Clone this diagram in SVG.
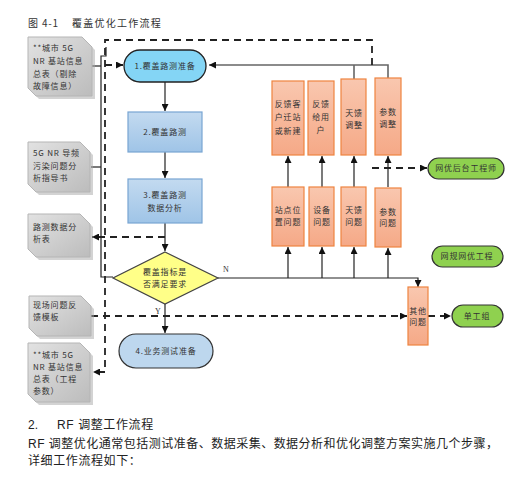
<svg xmlns="http://www.w3.org/2000/svg" width="530" height="495" viewBox="0 0 530 495">
<defs>
<linearGradient id="gGray" x1="0" y1="0" x2="1" y2="1"><stop offset="0" stop-color="#e2e2e2"/><stop offset="1" stop-color="#bcbcbc"/></linearGradient>
<linearGradient id="gOrange" x1="0" y1="0" x2="0" y2="1"><stop offset="0" stop-color="#f9c7af"/><stop offset="1" stop-color="#f5a987"/></linearGradient>
<linearGradient id="gBlue" x1="0" y1="0" x2="0" y2="1"><stop offset="0" stop-color="#c3daf0"/><stop offset="1" stop-color="#9fc4e7"/></linearGradient>
<marker id="arr" viewBox="0 0 10 10" refX="10" refY="5" markerWidth="7" markerHeight="7" markerUnits="userSpaceOnUse" orient="auto"><path d="M0,0 L10,5 L0,10 z" fill="#111"/></marker>
</defs>
<style>
text{font-family:"Noto Sans CJK SC","Liberation Sans",sans-serif;}
.t{font-size:8px;fill:#333;letter-spacing:0.8px;}
.tc{font-size:8px;fill:#333;letter-spacing:0.8px;text-anchor:middle;}
.ttl{font-size:10px;fill:#333;}
.p{font-family:"Liberation Sans","Noto Sans CJK SC",sans-serif;font-size:12px;fill:#222;}
.doc{fill:url(#gGray);stroke:#b5b5b5;stroke-width:1;}
.shadow{fill:#a8a8a8;opacity:0.5;}
.or{fill:url(#gOrange);stroke:#ee8440;stroke-width:1.2;}
.bl{fill:url(#gBlue);stroke:#78a5d3;stroke-width:1.2;}
.gr{fill:#8fd14f;stroke:#333;stroke-width:1.2;}
.ln{fill:none;stroke:#222;stroke-width:1.2;}
.fb{fill:none;stroke:#666;stroke-width:1.6;}
.ds{fill:none;stroke:#222;stroke-width:1.8;stroke-dasharray:7 5;}
</style>

<text class="ttl" x="28" y="27">图</text>
<text class="ttl" x="42" y="27" style="letter-spacing:0.8px;">4-1</text>
<text class="ttl" x="72" y="27" style="letter-spacing:1.25px;">覆盖优化工作流程</text>

<g id="connectors">
  <path class="ln" d="M92,66 L101,66"/>
  <path class="ln" d="M91,167 L101,167"/>
  <path class="ln" d="M106,47 L106,56 L101,56 L101,277 L113,277"/>
  <path class="ln" d="M165,82 L165,111" marker-end="url(#arr)"/>
  <path class="ln" d="M165,152 L165,178" marker-end="url(#arr)"/>
  <path class="ln" d="M165,223 L165,251" marker-end="url(#arr)"/>
  <path class="ln" d="M165,304 L165,333" marker-end="url(#arr)"/>
  <path class="ln" d="M218,278 L418,278 L418,287" marker-end="url(#arr)"/>
  <path class="ln" d="M288,278 L288,247" marker-end="url(#arr)"/>
  <path class="ln" d="M322,278 L322,247" marker-end="url(#arr)"/>
  <path class="ln" d="M354,278 L354,247" marker-end="url(#arr)"/>
  <path class="ln" d="M388,278 L388,248" marker-end="url(#arr)"/>
  <path class="ln" d="M288,187 L288,156" marker-end="url(#arr)"/>
  <path class="ln" d="M322,187 L322,156" marker-end="url(#arr)"/>
  <path class="ln" d="M354,187 L354,156" marker-end="url(#arr)"/>
  <path class="ln" d="M388,187 L388,156" marker-end="url(#arr)"/>
  <path class="fb" d="M354,79 L354,65 M388,78 L388,65 L209,65" marker-end="url(#arr)"/>
  <path class="ds" d="M372,65 L372,40 L105,40 L105,372 L93,372" marker-end="url(#arr)"/>
  <path class="ds" d="M105,65 L123,65" marker-end="url(#arr)"/>
  <path class="ds" d="M165,237 L92,237" marker-end="url(#arr)"/>
  <path class="ds" d="M91,316 L407,316" marker-end="url(#arr)"/>
  <path class="ds" d="M428,316 L451,316" marker-end="url(#arr)"/>
  <path class="ds" d="M372,168 L427,168" marker-end="url(#arr)"/>
  <text x="223" y="272" style="font-family:'Liberation Serif',serif;font-size:8px;fill:#333;">N</text>
  <text x="155" y="314" style="font-family:'Liberation Serif',serif;font-size:8px;fill:#333;">Y</text>
</g>

<g id="doc1">
  <path class="shadow" d="M31,40 L85,40 L95,50 L95,99 L39,99 L31,91 z"/>
  <path class="doc" d="M28,37 L82,37 L92,47 L92,96 L36,96 L28,88 z"/>
  <text class="t" x="33" y="51">**城市 5G</text>
  <text class="t" x="33" y="64">NR 基站信息</text>
  <text class="t" x="33" y="77">总表（剔除</text>
  <text class="t" x="33" y="89">故障信息）</text>
</g>
<g id="doc2">
  <path class="shadow" d="M31,145 L83,145 L93,155 L93,195 L39,195 L31,187 z"/>
  <path class="doc" d="M28,142 L80,142 L90,152 L90,192 L36,192 L28,184 z"/>
  <text class="t" x="33" y="156">5G NR 导频</text>
  <text class="t" x="33" y="169">污染问题分</text>
  <text class="t" x="33" y="181">析指导书</text>
</g>
<g id="doc3">
  <path class="shadow" d="M31,217 L83,217 L93,227 L93,260 L39,260 L31,252 z"/>
  <path class="doc" d="M28,214 L80,214 L90,224 L90,257 L36,257 L28,249 z"/>
  <text class="t" x="33" y="230">路测数据分</text>
  <text class="t" x="33" y="242">析表</text>
</g>
<g id="doc4">
  <path class="shadow" d="M32,299 L84,299 L94,309 L94,339 L40,339 L32,331 z"/>
  <path class="doc" d="M29,296 L81,296 L91,306 L91,336 L37,336 L29,328 z"/>
  <text class="t" x="33" y="308">现场问题反</text>
  <text class="t" x="33" y="320">馈模板</text>
</g>
<g id="doc5">
  <path class="shadow" d="M31,346 L83,346 L93,356 L93,405 L39,405 L31,397 z"/>
  <path class="doc" d="M28,343 L80,343 L90,353 L90,402 L36,402 L28,394 z"/>
  <text class="t" x="33" y="358">**城市 5G</text>
  <text class="t" x="33" y="370">NR 基站信息</text>
  <text class="t" x="33" y="382">总表（工程</text>
  <text class="t" x="33" y="394">参数）</text>
</g>

<g id="step1">
  <rect x="124" y="50" width="82" height="32" rx="16" fill="#84d5f5" stroke="#222" stroke-width="1.3"/>
  <text class="tc" x="165" y="69">1.覆盖路测准备</text>
</g>
<g id="step2">
  <rect class="bl" x="128" y="112" width="74" height="40"/>
  <text class="tc" x="165" y="135">2.覆盖路测</text>
</g>
<g id="step3">
  <rect class="bl" x="128" y="179" width="74" height="44"/>
  <text class="tc" x="165" y="198">3.覆盖路测</text>
  <text class="tc" x="165" y="211">数据分析</text>
</g>
<g id="decision">
  <path d="M165,252 L218,278 L165,304 L113,278 z" fill="#ffff88" stroke="#444" stroke-width="1.2"/>
  <text class="tc" x="165" y="275">覆盖指标是</text>
  <text class="tc" x="165" y="287">否满足要求</text>
</g>
<g id="step4">
  <rect x="119" y="334" width="94" height="34" rx="17" fill="#bdd7ee" stroke="#333" stroke-width="1.2"/>
  <text class="tc" x="166" y="354">4.业务测试准备</text>
</g>

<g id="fb1">
  <rect class="or" x="272" y="81" width="32" height="74"/>
  <text class="tc" x="288" y="107">反馈客</text>
  <text class="tc" x="288" y="120">户迁站</text>
  <text class="tc" x="288" y="134">或新建</text>
</g>
<g id="fb2">
  <rect class="or" x="308" y="81" width="26" height="74"/>
  <text class="tc" x="321" y="107">反馈</text>
  <text class="tc" x="321" y="120">给用</text>
  <text class="tc" x="321" y="133">户</text>
</g>
<g id="adj1">
  <rect class="or" x="341" y="79" width="25" height="76"/>
  <text class="tc" x="354" y="116">天馈</text>
  <text class="tc" x="354" y="128">调整</text>
</g>
<g id="adj2">
  <rect class="or" x="375" y="78" width="26" height="77"/>
  <text class="tc" x="388" y="115">参数</text>
  <text class="tc" x="388" y="127">调整</text>
</g>

<g id="iss1">
  <rect class="or" x="272" y="187" width="32" height="59"/>
  <text class="tc" x="288" y="213">站点位</text>
  <text class="tc" x="288" y="225">置问题</text>
</g>
<g id="iss2">
  <rect class="or" x="309" y="187" width="25" height="59"/>
  <text class="tc" x="322" y="213">设备</text>
  <text class="tc" x="322" y="225">问题</text>
</g>
<g id="iss3">
  <rect class="or" x="341" y="187" width="25" height="59"/>
  <text class="tc" x="354" y="213">天馈</text>
  <text class="tc" x="354" y="225">问题</text>
</g>
<g id="iss4">
  <rect class="or" x="375" y="188" width="26" height="59"/>
  <text class="tc" x="388" y="215">参数</text>
  <text class="tc" x="388" y="226">问题</text>
</g>
<g id="other">
  <rect class="or" x="408" y="287" width="20" height="58"/>
  <text class="tc" x="418" y="314">其他</text>
  <text class="tc" x="418" y="325">问题</text>
</g>

<g id="backoffice">
  <rect class="gr" x="428" y="158" width="76" height="21" rx="10.5"/>
  <text class="tc" x="466" y="171">网优后台工程师</text>
</g>
<g id="planning">
  <rect class="gr" x="432" y="246" width="71" height="21" rx="10.5"/>
  <text class="tc" x="467" y="259">网规网优工程</text>
</g>
<g id="workorder">
  <rect class="gr" x="452" y="305" width="51" height="22" rx="11"/>
  <text class="tc" x="477" y="319">单工组</text>
</g>

<text class="p" x="28" y="429">2.</text>
<text class="p" x="57" y="429" style="letter-spacing:0.6px;">RF 调整工作流程</text>
<text class="p" x="28" y="448" textLength="470" lengthAdjust="spacing">RF 调整优化通常包括测试准备、数据采集、数据分析和优化调整方案实施几个步骤，</text>
<text class="p" x="28" y="465" style="letter-spacing:0.6px;">详细工作流程如下：</text>
</svg>
